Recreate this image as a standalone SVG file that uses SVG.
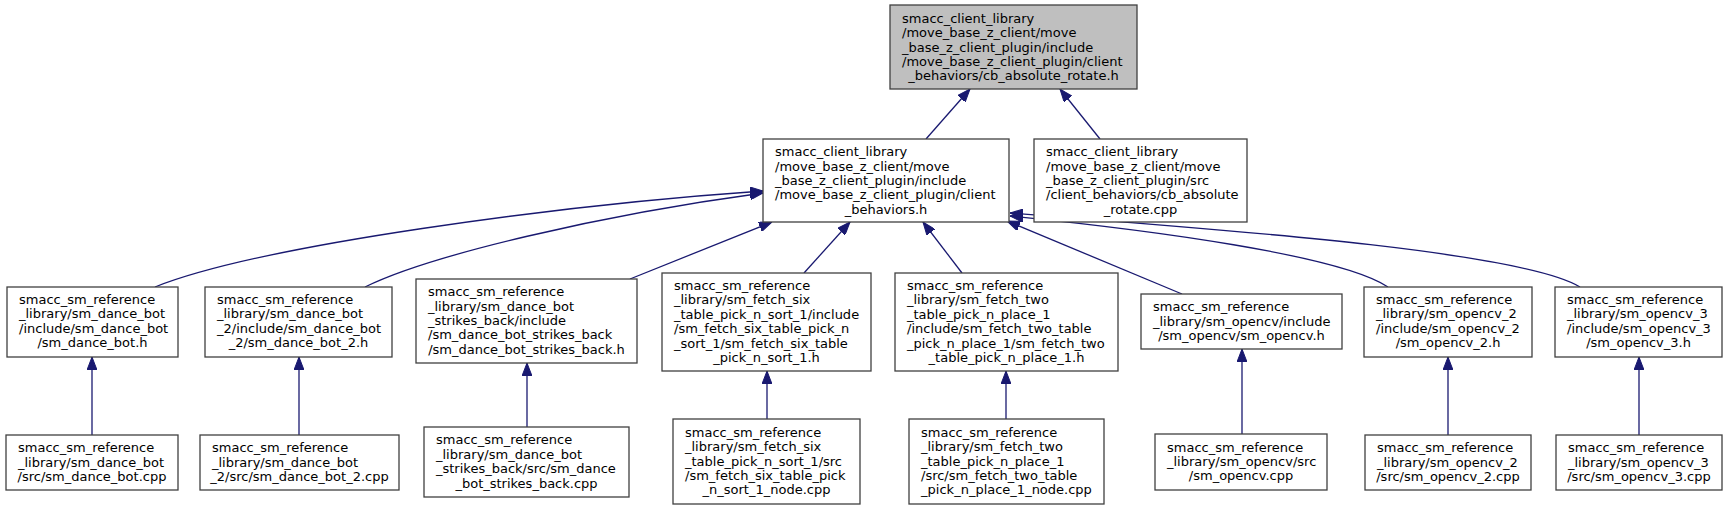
<svg xmlns="http://www.w3.org/2000/svg" width="1727" height="511" viewBox="0 0 1727 511">
<style>
.n rect{fill:#fff;stroke:#404040;stroke-width:1.3}
.n.root rect{fill:#bfbfbf;stroke:#404040}
.n text{font-family:"DejaVu Sans",sans-serif;font-size:13px;fill:#000}
.n text.c{text-anchor:middle}
.e path{fill:none;stroke:#191970;stroke-width:1.3}
</style>
<defs>
<marker id="ah" viewBox="0 0 13 10" refX="13" refY="5" markerWidth="13" markerHeight="10" orient="auto" markerUnits="userSpaceOnUse"><path d="M0,0 L13,5 L0,10 z" fill="#191970" stroke="#191970" stroke-width="1"/></marker>
</defs>
<rect width="1727" height="511" fill="#fff"/>
<g id="edges" class="e">
<path d="M926,139 L970,89" marker-end="url(#ah)"/>
<path d="M1100,139 L1060,89" marker-end="url(#ah)"/>
<path d="M155,287 C260,245 560,205 763,191" marker-end="url(#ah)"/>
<path d="M365,287 C430,255 600,215 763,193" marker-end="url(#ah)"/>
<path d="M630,279 L772,222" marker-end="url(#ah)"/>
<path d="M804,273 L850,222" marker-end="url(#ah)"/>
<path d="M962,273 L923,222" marker-end="url(#ah)"/>
<path d="M1182,294 L1007,221" marker-end="url(#ah)"/>
<path d="M1388,287 C1340,255 1150,230 1010,216" marker-end="url(#ah)"/>
<path d="M1580,287 C1520,250 1200,228 1010,213" marker-end="url(#ah)"/>
<path d="M92,435 L92,357" marker-end="url(#ah)"/>
<path d="M299,435 L299,357" marker-end="url(#ah)"/>
<path d="M527,427 L527,363" marker-end="url(#ah)"/>
<path d="M767,419 L767,371" marker-end="url(#ah)"/>
<path d="M1006,419 L1006,371" marker-end="url(#ah)"/>
<path d="M1242,434 L1242,349" marker-end="url(#ah)"/>
<path d="M1448,435 L1448,357" marker-end="url(#ah)"/>
<path d="M1639,435 L1639,357" marker-end="url(#ah)"/>
</g>
<g id="node1" class="n root">
<rect x="890" y="5" width="247" height="84"/>
<text x="902" y="22.7">smacc_client_library</text>
<text x="902" y="37.1">/move_base_z_client/move</text>
<text x="902" y="51.5">_base_z_client_plugin/include</text>
<text x="902" y="65.9">/move_base_z_client_plugin/client</text>
<text class="c" x="1013.5" y="80.3">_behaviors/cb_absolute_rotate.h</text>
</g>
<g id="node2" class="n">
<rect x="763" y="139" width="246" height="83"/>
<text x="775" y="156.2">smacc_client_library</text>
<text x="775" y="170.6">/move_base_z_client/move</text>
<text x="775" y="185">_base_z_client_plugin/include</text>
<text x="775" y="199.4">/move_base_z_client_plugin/client</text>
<text class="c" x="886" y="213.8">_behaviors.h</text>
</g>
<g id="node3" class="n">
<rect x="1034" y="139" width="213" height="83"/>
<text x="1046" y="156.2">smacc_client_library</text>
<text x="1046" y="170.6">/move_base_z_client/move</text>
<text x="1046" y="185">_base_z_client_plugin/src</text>
<text x="1046" y="199.4">/client_behaviors/cb_absolute</text>
<text class="c" x="1140.5" y="213.8">_rotate.cpp</text>
</g>
<g id="node4" class="n">
<rect x="7" y="287" width="171" height="70"/>
<text x="19" y="304">smacc_sm_reference</text>
<text x="19" y="318.4">_library/sm_dance_bot</text>
<text x="19" y="332.8">/include/sm_dance_bot</text>
<text class="c" x="92.5" y="347.2">/sm_dance_bot.h</text>
</g>
<g id="node5" class="n">
<rect x="205" y="287" width="187" height="70"/>
<text x="217" y="304">smacc_sm_reference</text>
<text x="217" y="318.4">_library/sm_dance_bot</text>
<text x="217" y="332.8">_2/include/sm_dance_bot</text>
<text class="c" x="298.5" y="347.2">_2/sm_dance_bot_2.h</text>
</g>
<g id="node6" class="n">
<rect x="416" y="279" width="221" height="84"/>
<text x="428" y="296.2">smacc_sm_reference</text>
<text x="428" y="310.6">_library/sm_dance_bot</text>
<text x="428" y="325">_strikes_back/include</text>
<text x="428" y="339.4">/sm_dance_bot_strikes_back</text>
<text class="c" x="526.5" y="353.8">/sm_dance_bot_strikes_back.h</text>
</g>
<g id="node7" class="n">
<rect x="662" y="273" width="209" height="98"/>
<text x="674" y="290">smacc_sm_reference</text>
<text x="674" y="304.4">_library/sm_fetch_six</text>
<text x="674" y="318.8">_table_pick_n_sort_1/include</text>
<text x="674" y="333.2">/sm_fetch_six_table_pick_n</text>
<text x="674" y="347.6">_sort_1/sm_fetch_six_table</text>
<text class="c" x="766.5" y="362">_pick_n_sort_1.h</text>
</g>
<g id="node8" class="n">
<rect x="895" y="273" width="223" height="98"/>
<text x="907" y="290">smacc_sm_reference</text>
<text x="907" y="304.4">_library/sm_fetch_two</text>
<text x="907" y="318.8">_table_pick_n_place_1</text>
<text x="907" y="333.2">/include/sm_fetch_two_table</text>
<text x="907" y="347.6">_pick_n_place_1/sm_fetch_two</text>
<text class="c" x="1006.5" y="362">_table_pick_n_place_1.h</text>
</g>
<g id="node9" class="n">
<rect x="1141" y="294" width="201" height="55"/>
<text x="1153" y="311.1">smacc_sm_reference</text>
<text x="1153" y="325.5">_library/sm_opencv/include</text>
<text class="c" x="1241.5" y="339.9">/sm_opencv/sm_opencv.h</text>
</g>
<g id="node10" class="n">
<rect x="1364" y="287" width="168" height="70"/>
<text x="1376" y="304">smacc_sm_reference</text>
<text x="1376" y="318.4">_library/sm_opencv_2</text>
<text x="1376" y="332.8">/include/sm_opencv_2</text>
<text class="c" x="1448" y="347.2">/sm_opencv_2.h</text>
</g>
<g id="node11" class="n">
<rect x="1555" y="287" width="167" height="70"/>
<text x="1567" y="304">smacc_sm_reference</text>
<text x="1567" y="318.4">_library/sm_opencv_3</text>
<text x="1567" y="332.8">/include/sm_opencv_3</text>
<text class="c" x="1638.5" y="347.2">/sm_opencv_3.h</text>
</g>
<g id="node12" class="n">
<rect x="6" y="435" width="172" height="55"/>
<text x="18" y="452.1">smacc_sm_reference</text>
<text x="18" y="466.5">_library/sm_dance_bot</text>
<text class="c" x="92" y="480.9">/src/sm_dance_bot.cpp</text>
</g>
<g id="node13" class="n">
<rect x="200" y="435" width="199" height="55"/>
<text x="212" y="452.1">smacc_sm_reference</text>
<text x="212" y="466.5">_library/sm_dance_bot</text>
<text class="c" x="299.5" y="480.9">_2/src/sm_dance_bot_2.cpp</text>
</g>
<g id="node14" class="n">
<rect x="424" y="427" width="205" height="70"/>
<text x="436" y="444.4">smacc_sm_reference</text>
<text x="436" y="458.8">_library/sm_dance_bot</text>
<text x="436" y="473.2">_strikes_back/src/sm_dance</text>
<text class="c" x="526.5" y="487.6">_bot_strikes_back.cpp</text>
</g>
<g id="node15" class="n">
<rect x="673" y="419" width="187" height="85"/>
<text x="685" y="436.7">smacc_sm_reference</text>
<text x="685" y="451.1">_library/sm_fetch_six</text>
<text x="685" y="465.5">_table_pick_n_sort_1/src</text>
<text x="685" y="479.9">/sm_fetch_six_table_pick</text>
<text class="c" x="766.5" y="494.3">_n_sort_1_node.cpp</text>
</g>
<g id="node16" class="n">
<rect x="909" y="419" width="195" height="85"/>
<text x="921" y="436.7">smacc_sm_reference</text>
<text x="921" y="451.1">_library/sm_fetch_two</text>
<text x="921" y="465.5">_table_pick_n_place_1</text>
<text x="921" y="479.9">/src/sm_fetch_two_table</text>
<text class="c" x="1006.5" y="494.3">_pick_n_place_1_node.cpp</text>
</g>
<g id="node17" class="n">
<rect x="1155" y="434" width="172" height="56"/>
<text x="1167" y="451.6">smacc_sm_reference</text>
<text x="1167" y="466">_library/sm_opencv/src</text>
<text class="c" x="1241" y="480.4">/sm_opencv.cpp</text>
</g>
<g id="node18" class="n">
<rect x="1365" y="435" width="166" height="55"/>
<text x="1377" y="452.1">smacc_sm_reference</text>
<text x="1377" y="466.5">_library/sm_opencv_2</text>
<text class="c" x="1448" y="480.9">/src/sm_opencv_2.cpp</text>
</g>
<g id="node19" class="n">
<rect x="1556" y="435" width="166" height="55"/>
<text x="1568" y="452.1">smacc_sm_reference</text>
<text x="1568" y="466.5">_library/sm_opencv_3</text>
<text class="c" x="1639" y="480.9">/src/sm_opencv_3.cpp</text>
</g>
</svg>
